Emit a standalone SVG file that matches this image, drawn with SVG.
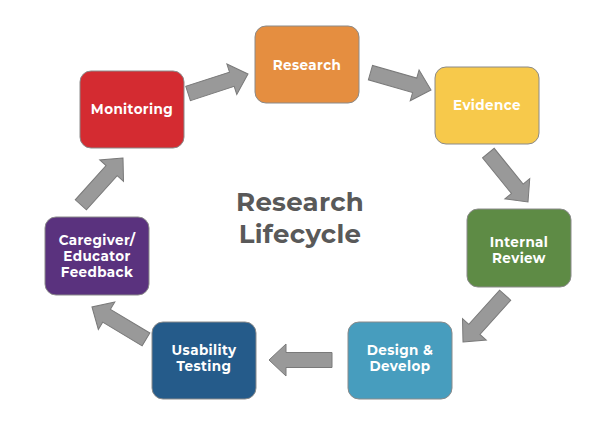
<svg xmlns="http://www.w3.org/2000/svg" xmlns:xlink="http://www.w3.org/1999/xlink" width="616" height="437" viewBox="0 0 616 437">
<style>
.box{stroke:#8a8a8a;stroke-width:1}
.lbl{font-family:"Montserrat","Open Sans","Liberation Sans",sans-serif;font-weight:700;font-size:13.5px;letter-spacing:0.4px;fill:#ffffff;text-anchor:middle}
.title{font-family:"Montserrat","Open Sans","Liberation Sans",sans-serif;font-weight:700;font-size:26px;letter-spacing:0.3px;fill:#595959;text-anchor:middle}
.arr{fill:#999999;stroke:#7a7a7a;stroke-width:1}
</style>
<defs>
<path id="arrow" d="M0,0 L-17,-16 L-17,-7.5 L-63,-7.5 L-63,7.5 L-17,7.5 L-17,16 Z"/>
</defs>
<rect width="616" height="437" fill="#ffffff"/>
<g id="connectors" class="arr">
<use xlink:href="#arrow" href="#arrow" transform="translate(248,74) rotate(-18)"/>
<use xlink:href="#arrow" href="#arrow" transform="translate(431,90) rotate(16)"/>
<use xlink:href="#arrow" href="#arrow" transform="translate(528,202) rotate(51)"/>
<use xlink:href="#arrow" href="#arrow" transform="translate(463,342) rotate(132)"/>
<use xlink:href="#arrow" href="#arrow" transform="translate(269,360) rotate(180)"/>
<use xlink:href="#arrow" href="#arrow" transform="translate(92,307) rotate(211)"/>
<use xlink:href="#arrow" href="#arrow" transform="translate(123,158) rotate(-48)"/>
</g>
<g id="research"><rect class="box" x="255" y="26" width="104" height="77" rx="11" fill="#E58E40"/><text class="lbl" x="307" y="70">Research</text></g>
<g id="evidence"><rect class="box" x="435" y="67" width="104" height="77" rx="11" fill="#F7C94B"/><text class="lbl" x="487" y="110">Evidence</text></g>
<g id="internal-review"><rect class="box" x="467" y="209" width="104" height="78" rx="11" fill="#5E8B45"/><text class="lbl" x="519" y="247">Internal</text><text class="lbl" x="519" y="263">Review</text></g>
<g id="design-develop"><rect class="box" x="348" y="322" width="104" height="77" rx="11" fill="#479DBE"/><text class="lbl" x="400" y="355">Design &amp;</text><text class="lbl" x="400" y="371">Develop</text></g>
<g id="usability-testing"><rect class="box" x="152" y="322" width="104" height="77" rx="11" fill="#255B8A"/><text class="lbl" x="204" y="355">Usability</text><text class="lbl" x="204" y="371">Testing</text></g>
<g id="caregiver-feedback"><rect class="box" x="45" y="217" width="104" height="78" rx="11" fill="#5A327E"/><text class="lbl" x="97" y="245">Caregiver/</text><text class="lbl" x="97" y="261">Educator</text><text class="lbl" x="97" y="277">Feedback</text></g>
<g id="monitoring"><rect class="box" x="80" y="71" width="104" height="77" rx="11" fill="#D42B31"/><text class="lbl" x="132" y="114">Monitoring</text></g>
<g id="title"><text class="title" x="300" y="211">Research</text><text class="title" x="300" y="243">Lifecycle</text></g>
</svg>
